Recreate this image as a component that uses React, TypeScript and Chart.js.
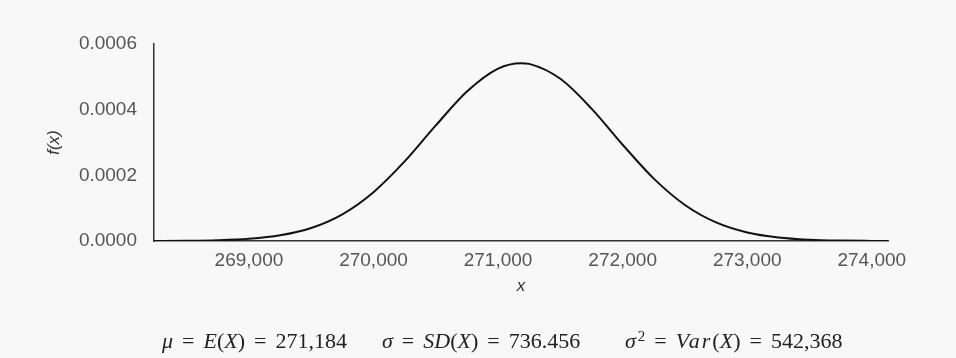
import React, { useEffect, useRef } from "react";
import { Chart, registerables } from "chart.js";

Chart.register(...registerables);

const xValues = [
  268238, 268250, 268500, 268750, 269000, 269250, 269500, 269750, 270000,
  270250, 270500, 270750, 271000, 271184, 271250, 271500, 271750, 272000,
  272250, 272500, 272750, 273000, 273250, 273500, 273750, 274000, 274130,
];
const density = [
  0.00000018, 0.00000019, 0.00000071, 0.0000023, 0.0000067, 0.00001723,
  0.00003966, 0.00008136, 0.00014875, 0.00024236, 0.0003519, 0.0004553,
  0.0005251, 0.0005417, 0.0005395, 0.000494, 0.0004032, 0.0002932,
  0.00019, 0.00010975, 0.0000565, 0.00002591, 0.00001058, 0.00000386,
  0.00000125, 0.00000036, 0.00000018,
];
const xTickValues = [269000, 270000, 271000, 272000, 273000, 274000];
const yTickValues = [0, 0.0002, 0.0004, 0.0006];
const xMin = 268238;
const xMax = 274130;

export default function App() {
  const ref = useRef<HTMLCanvasElement | null>(null);

  useEffect(() => {
    document.body.style.margin = "0";
    const ctx = ref.current!;
    const font = "'Liberation Sans', Arial, sans-serif";
    const chart = new Chart(ctx, {
      type: "line",
      data: {
        datasets: [
          {
            data: xValues.map((x, i) => ({ x, y: density[i] })),
            borderColor: "#111111",
            borderWidth: 2,
            pointRadius: 0,
            fill: false,
            cubicInterpolationMode: "monotone",
          },
        ],
      },
      options: {
        animation: false,
        responsive: false,
        events: [],
        layout: { padding: { left: 44, right: 68, top: 44, bottom: 57 } },
        plugins: { legend: { display: false }, tooltip: { enabled: false } },
        scales: {
          x: {
            type: "linear",
            min: xMin,
            max: xMax,
            grid: { display: false, drawTicks: false },
            border: { display: true, color: "#333333", width: 1.5 },
            afterBuildTicks: (s: any) => {
              s.ticks = xTickValues.map((v) => ({ value: v }));
            },
            ticks: {
              padding: 8,
              color: "#555555",
              font: { family: font, size: 19 },
              callback: (v: any) => Number(v).toLocaleString("en-US"),
            },
            title: {
              display: true,
              text: "x",
              color: "#333333",
              padding: { top: 0, bottom: 5 },
              font: { family: font, size: 17, style: "italic" },
            },
            afterFit: (s: any) => {
              s.height = 60;
            },
          },
          y: {
            min: 0,
            max: 0.0006,
            grid: { display: false, drawTicks: false },
            border: { display: true, color: "#333333", width: 1.5 },
            afterBuildTicks: (s: any) => {
              s.ticks = yTickValues.map((v) => ({ value: v }));
            },
            ticks: {
              padding: 17,
              color: "#555555",
              font: { family: font, size: 19 },
              callback: (v: any) => Number(v).toFixed(4),
            },
            title: {
              display: true,
              text: "f(x)",
              color: "#333333",
              padding: { top: 0, bottom: 0 },
              font: { family: font, size: 17, style: "italic" },
            },
            afterFit: (s: any) => {
              s.width = 110;
            },
          },
        },
      },
    });
    return () => chart.destroy();
  }, []);

  const it: React.CSSProperties = { fontStyle: "italic" };
  const seg = (left: number): React.CSSProperties => ({
    position: "absolute",
    left,
    top: 328,
    whiteSpace: "nowrap",
  });
  const Eq = () => <span style={{ padding: "0 9px" }}>=</span>;

  return (
    <div
      style={{
        position: "fixed",
        left: 0,
        top: 0,
        width: 956,
        height: 358,
        background: "#f8f8f8",
      }}
    >
      <canvas ref={ref} width={956} height={358} style={{ display: "block" }} />
      <div
        style={{
          position: "absolute",
          left: 0,
          top: 0,
          fontFamily: "'Liberation Serif', 'DejaVu Serif', serif",
          fontSize: 22,
          color: "#222222",
        }}
      >
        <span style={seg(162)}>
          <span style={it}>μ</span>
          <Eq />
          <span style={it}>E</span>(<span style={it}>X</span>)<Eq />
          271,184
        </span>
        <span style={seg(382)}>
          <span style={it}>σ</span>
          <Eq />
          <span style={it}>SD</span>(<span style={it}>X</span>)<Eq />
          736.456
        </span>
        <span style={seg(625)}>
          <span style={it}>σ</span>
          <sup style={{ fontSize: 15, verticalAlign: "7px", lineHeight: 0, paddingLeft: 2 }}>2</sup>
          <Eq />
          <span style={{ ...it, letterSpacing: 2 }}>Var</span>(<span style={it}>X</span>)<Eq />
          542,368
        </span>
      </div>
    </div>
  );
}
